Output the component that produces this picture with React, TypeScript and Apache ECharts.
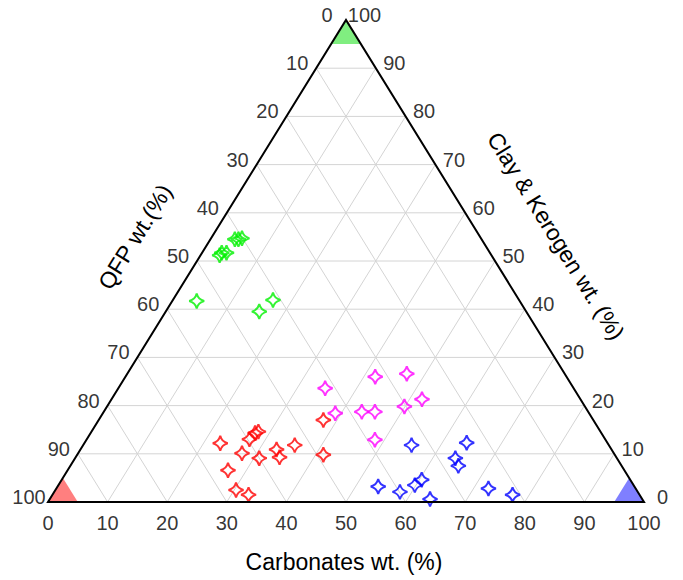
import React, { useEffect, useRef } from "react";
import * as echarts from "echarts";

// Tick values on each side of the ternary diagram (wt.%)
const tickValues = [0, 10, 20, 30, 40, 50, 60, 70, 80, 90, 100];
const gridValues = [10, 20, 30, 40, 50, 60, 70, 80, 90];
const cornerSize = 5;

// Sample compositions: carbonates, clay & kerogen, QFP (wt.%)
const greenCarb = [4.1, 5.2, 4.7, 3.2, 4.1, 3.3, 4.1, 15.7, 16.8];
const greenClay = [54.5, 54.7, 54.5, 51.2, 51.7, 51.7, 41.7, 39.5, 41.9];
const greenQfp = [41.4, 40.1, 40.8, 45.6, 44.2, 45.0, 54.2, 44.8, 41.3];

const redCarb = [37.7, 22.8, 27.6, 28.0, 27.3, 27.5, 30.9, 32.9, 34.2, 35.5, 41.3, 26.9, 30.3, 32.9];
const redClay = [17.0, 12.2, 14.3, 14.6, 13.0, 10.1, 9.1, 10.9, 9.3, 11.8, 9.8, 6.6, 2.5, 1.5];
const redQfp = [45.3, 65.0, 58.1, 57.4, 59.7, 62.4, 60.0, 56.2, 56.5, 52.7, 48.9, 66.5, 67.2, 65.6];

const magentaCarb = [34.7, 41.9, 46.9, 52.1, 49.9, 39.0, 43.3, 45.5, 48.4];
const magentaClay = [23.6, 26.0, 26.6, 21.3, 19.8, 18.4, 18.7, 18.7, 12.9];
const magentaQfp = [41.7, 32.1, 26.5, 26.6, 30.3, 42.6, 38.0, 35.8, 38.7];

const blueCarb = [55.1, 64.1, 63.8, 65.1, 53.8, 58.0, 59.8, 60.4, 63.8, 72.5, 77.2];
const blueClay = [11.8, 12.3, 9.1, 7.5, 3.2, 2.1, 3.5, 4.6, 0.6, 2.8, 1.5];
const blueQfp = [33.1, 23.6, 27.1, 27.4, 43.0, 39.9, 36.7, 35.0, 35.6, 24.7, 21.3];

const FONT = "'Liberation Sans', Arial, Helvetica, sans-serif";
const STAR =
  "path://M0,-10 Q2,-2 10,0 Q2,2 0,10 Q-2,2 -10,0 Q-2,-2 0,-10 Z";

// ternary (carbonates, clay, qfp) -> cartesian data coords
function toXY(c: number, k: number, q: number): number[] {
  const s = c + k + q;
  return [((c + k / 2) / s) * 100, (k / s) * 100];
}

function groupData(carb: number[], clay: number[], qfp: number[]) {
  return carb.map((c, i) => toXY(c, clay[i], qfp[i]));
}

function starSeries(carb: number[], clay: number[], qfp: number[], color: string) {
  return {
    type: "scatter",
    data: groupData(carb, clay, qfp),
    symbol: STAR,
    symbolSize: 15,
    itemStyle: { color: "rgba(0,0,0,0)", borderColor: color, borderWidth: 2 },
    z: 4,
    silent: true,
  };
}

function labelSeries(points: number[][], values: number[], offset: number[]) {
  return {
    type: "scatter",
    data: points.map((p, i) => ({ value: p, name: String(values[i]) })),
    symbolSize: 1,
    itemStyle: { color: "rgba(0,0,0,0)" },
    label: {
      show: true,
      position: "inside",
      offset,
      formatter: (p: any) => p.name,
      color: "#000",
      fontSize: 20,
      fontFamily: FONT,
      align: "center",
      verticalAlign: "middle",
    },
    z: 6,
    silent: true,
  };
}

export default function App() {
  const ref = useRef<HTMLDivElement>(null);

  useEffect(() => {
    if (!ref.current) return;
    const chart = echarts.init(ref.current, null, { renderer: "svg" });

    const bottomPts = tickValues.map((v) => toXY(v, 0, 100 - v));
    const leftPts = tickValues.map((v) => toXY(0, 100 - v, v));
    const rightPts = tickValues.map((v) => toXY(100 - v, v, 0));

    const corners = [
      { pts: [[0, 100, 0], [cornerSize, 100 - cornerSize, 0], [0, 100 - cornerSize, cornerSize]], color: "#80ee80" },
      { pts: [[0, 0, 100], [cornerSize, 0, 100 - cornerSize], [0, cornerSize, 100 - cornerSize]], color: "#ff7f7f" },
      { pts: [[100, 0, 0], [100 - cornerSize, 0, cornerSize], [100 - cornerSize, cornerSize, 0]], color: "#7f7fff" },
    ];

    const angle = Math.atan2(482, 298);

    const option: any = {
      animation: false,
      grid: { left: 48, right: 39, top: 20, bottom: 78 },
      xAxis: { type: "value", min: 0, max: 100, show: false },
      yAxis: { type: "value", min: 0, max: 100, show: false },
      series: [
        {
          type: "custom",
          coordinateSystem: "cartesian2d",
          data: gridValues.map((v) => [v, 0]),
          encode: { x: 0, y: 1 },
          silent: true,
          z: 1,
          renderItem: (params: any, api: any) => {
            const v = api.value(0);
            const segs = [
              [toXY(0, v, 100 - v), toXY(100 - v, v, 0)],
              [toXY(v, 0, 100 - v), toXY(v, 100 - v, 0)],
              [toXY(100 - v, 0, v), toXY(0, 100 - v, v)],
            ];
            return {
              type: "group",
              children: segs.map((s) => {
                const a = api.coord(s[0]);
                const b = api.coord(s[1]);
                return {
                  type: "line",
                  shape: { x1: a[0], y1: a[1], x2: b[0], y2: b[1] },
                  style: { stroke: "#d4d4d4", lineWidth: 1 },
                };
              }),
            };
          },
        },
        {
          type: "custom",
          coordinateSystem: "cartesian2d",
          data: corners.map((c, i) => [i, 0]),
          encode: { x: 0, y: 1 },
          silent: true,
          z: 2,
          renderItem: (params: any, api: any) => {
            const c = corners[params.dataIndex];
            return {
              type: "polygon",
              shape: { points: c.pts.map((p) => api.coord(toXY(p[0], p[1], p[2]))) },
              style: { fill: c.color, stroke: "none" },
            };
          },
        },
        starSeries(greenCarb, greenClay, greenQfp, "#00f000"),
        starSeries(redCarb, redClay, redQfp, "#ff0000"),
        starSeries(magentaCarb, magentaClay, magentaQfp, "#ff00ff"),
        starSeries(blueCarb, blueClay, blueQfp, "#0000ff"),
        {
          type: "custom",
          coordinateSystem: "cartesian2d",
          data: [[0, 0]],
          encode: { x: 0, y: 1 },
          silent: true,
          z: 5,
          renderItem: (params: any, api: any) => ({
            type: "polygon",
            shape: {
              points: [toXY(0, 0, 100), toXY(100, 0, 0), toXY(0, 100, 0)].map((p) => api.coord(p)),
            },
            style: { fill: "none", stroke: "#000", lineWidth: 2 },
          }),
        },
        labelSeries(bottomPts, tickValues, [0, 21]),
        labelSeries(leftPts, tickValues, [-19, -5]),
        labelSeries(rightPts, tickValues, [18.5, -5]),
      ],
      graphic: [
        {
          type: "text",
          x: 344,
          y: 562,
          style: {
            text: "Carbonates wt. (%)",
            font: `23px ${FONT}`,
            fill: "#000",
            textAlign: "center",
            textVerticalAlign: "middle",
          },
        },
        {
          type: "text",
          x: 135,
          y: 237,
          rotation: angle,
          style: {
            text: "QFP wt.(%)",
            font: `23px ${FONT}`,
            fill: "#000",
            textAlign: "center",
            textVerticalAlign: "middle",
          },
        },
        {
          type: "text",
          x: 556,
          y: 236,
          rotation: -angle,
          style: {
            text: "Clay & Kerogen wt. (%)",
            font: `23px ${FONT}`,
            fill: "#000",
            textAlign: "center",
            textVerticalAlign: "middle",
          },
        },
      ],
    };

    chart.setOption(option);
    return () => chart.dispose();
  }, []);

  return (
    <div
      ref={ref}
      style={{ position: "fixed", left: 0, top: 0, width: 683, height: 580, background: "#fff" }}
    />
  );
}
